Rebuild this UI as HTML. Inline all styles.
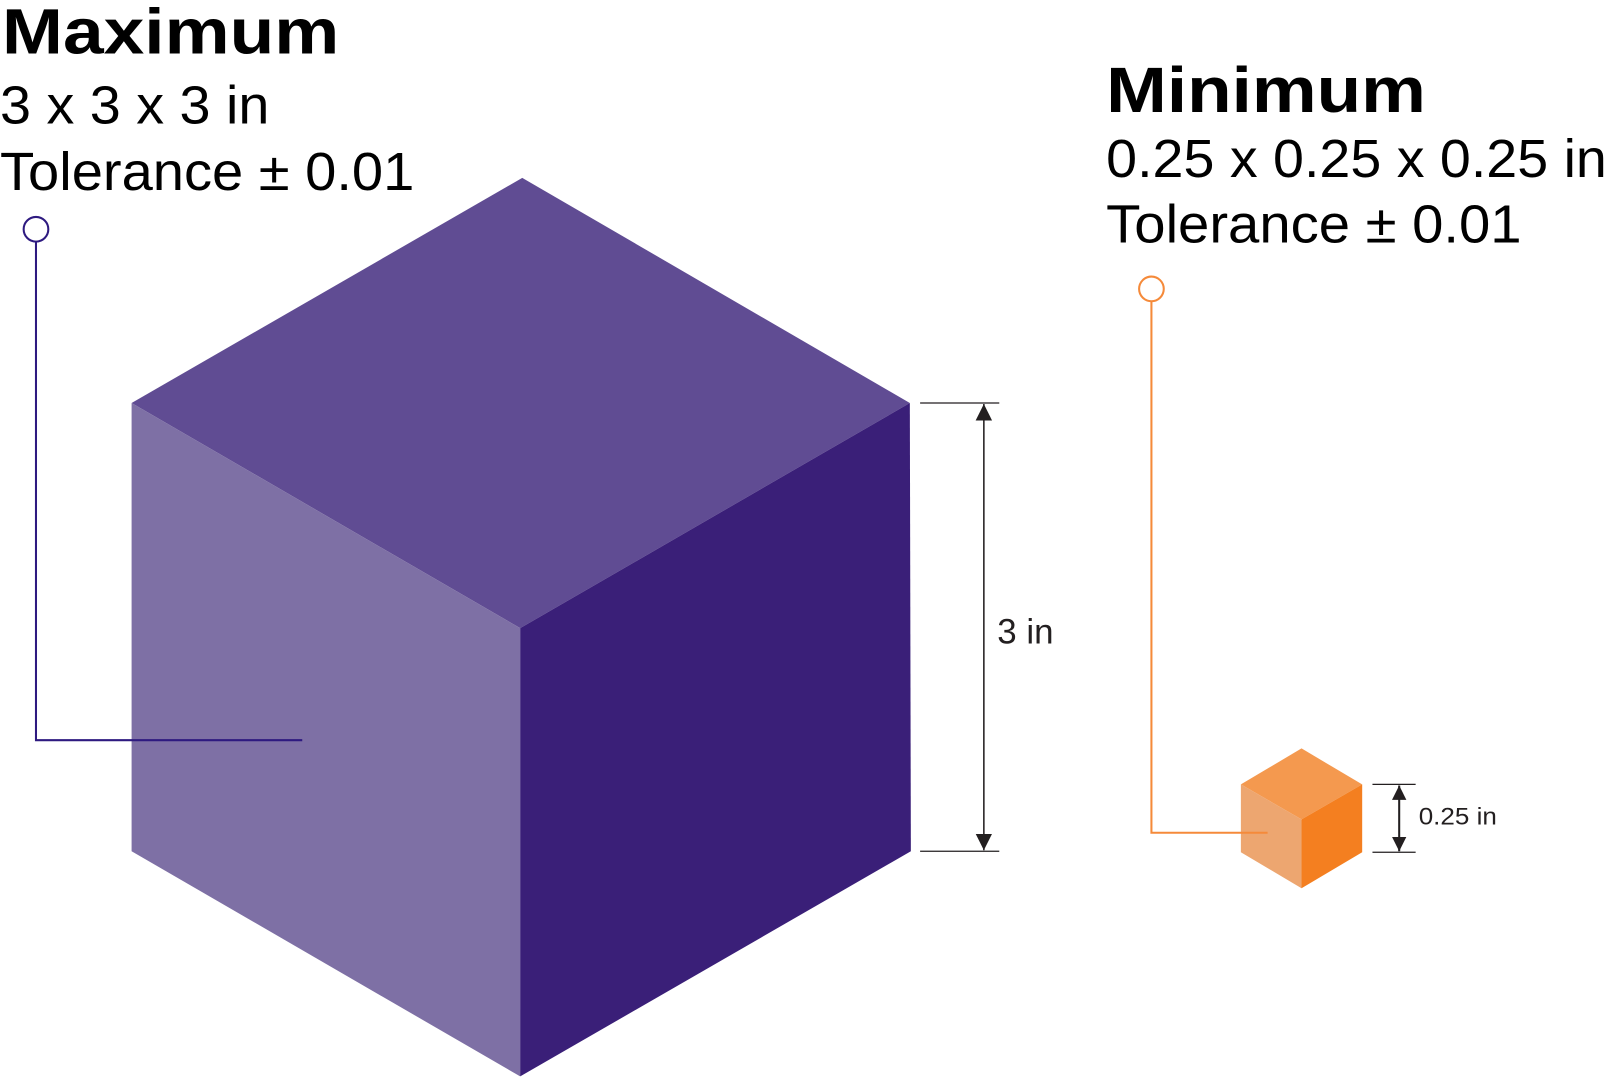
<!DOCTYPE html>
<html><head><meta charset="utf-8"><style>
html,body{margin:0;padding:0;background:#fff;}
svg{display:block;}
</style></head><body>
<svg width="1612" height="1084" viewBox="0 0 1568 1054.4" preserveAspectRatio="none" xmlns="http://www.w3.org/2000/svg">
<defs>
<marker id="ah" viewBox="0 0 10 10" refX="10" refY="5" markerUnits="userSpaceOnUse" markerWidth="16" markerHeight="18" orient="auto-start-reverse"><path d="M0,0 L10,5 L0,10 z" fill="#231f20"/></marker>
<marker id="ah2" viewBox="0 0 10 10" refX="10" refY="5" markerUnits="userSpaceOnUse" markerWidth="14" markerHeight="14" orient="auto-start-reverse"><path d="M0,0 L10,5 L0,10 z" fill="#231f20"/></marker>
</defs>
<polygon points="508,173 885,392 506,611 128,392" fill="#604c93"/>
<polygon points="128,392 506,611 506,1047 128,828" fill="#7e70a5"/>
<polygon points="506,611 885,392 886,828 506,1047" fill="#3a1f78"/>
<line x1="895" y1="392" x2="972" y2="392" stroke="#231f20" stroke-width="1.2"/>
<line x1="895" y1="828" x2="972" y2="828" stroke="#231f20" stroke-width="1.2"/>
<line x1="957" y1="393" x2="957" y2="827" stroke="#231f20" stroke-width="1.5" marker-start="url(#ah)" marker-end="url(#ah)"/>
<text x="970" y="626" font-family="Liberation Sans, sans-serif" font-size="34" fill="#231f20">3 in</text>
<circle cx="35" cy="223" r="12" fill="none" stroke="#2e1a80" stroke-width="2"/>
<polyline points="35,235 35,720 294,720" fill="none" stroke="#2e1a80" stroke-width="2"/>
<polygon points="1266,728 1325,763 1266,797 1207,763" fill="#f4994f"/>
<polygon points="1207,763 1266,797 1266,864 1207,829" fill="#eda670"/>
<polygon points="1266,797 1325,763 1325,829 1266,864" fill="#f47f20"/>
<line x1="1335" y1="763" x2="1377" y2="763" stroke="#231f20" stroke-width="1.2"/>
<line x1="1335" y1="829" x2="1377" y2="829" stroke="#231f20" stroke-width="1.2"/>
<line x1="1361" y1="764" x2="1361" y2="828" stroke="#231f20" stroke-width="2" marker-start="url(#ah2)" marker-end="url(#ah2)"/>
<text x="1380" y="802" font-family="Liberation Sans, sans-serif" font-size="23" fill="#231f20" textLength="76" lengthAdjust="spacingAndGlyphs">0.25 in</text>
<circle cx="1120" cy="281" r="12" fill="none" stroke="#f58a3a" stroke-width="2"/>
<polyline points="1120,293 1120,810 1233,810" fill="none" stroke="#f58a3a" stroke-width="2"/>
<g font-family="Liberation Sans, sans-serif" fill="#000">
<text x="2" y="52" font-size="62" font-weight="bold" textLength="328" lengthAdjust="spacingAndGlyphs">Maximum</text>
<text x="0" y="120" font-size="52" textLength="262" lengthAdjust="spacingAndGlyphs">3 x 3 x 3 in</text>
<text x="0" y="185" font-size="52" textLength="403" lengthAdjust="spacingAndGlyphs">Tolerance ± 0.01</text>
<text x="1076" y="109" font-size="62" font-weight="bold" textLength="311" lengthAdjust="spacingAndGlyphs">Minimum</text>
<text x="1076" y="172" font-size="52" textLength="487" lengthAdjust="spacingAndGlyphs">0.25 x 0.25 x 0.25 in</text>
<text x="1076" y="236" font-size="52" textLength="404" lengthAdjust="spacingAndGlyphs">Tolerance ± 0.01</text>
</g>
</svg>
</body></html>
